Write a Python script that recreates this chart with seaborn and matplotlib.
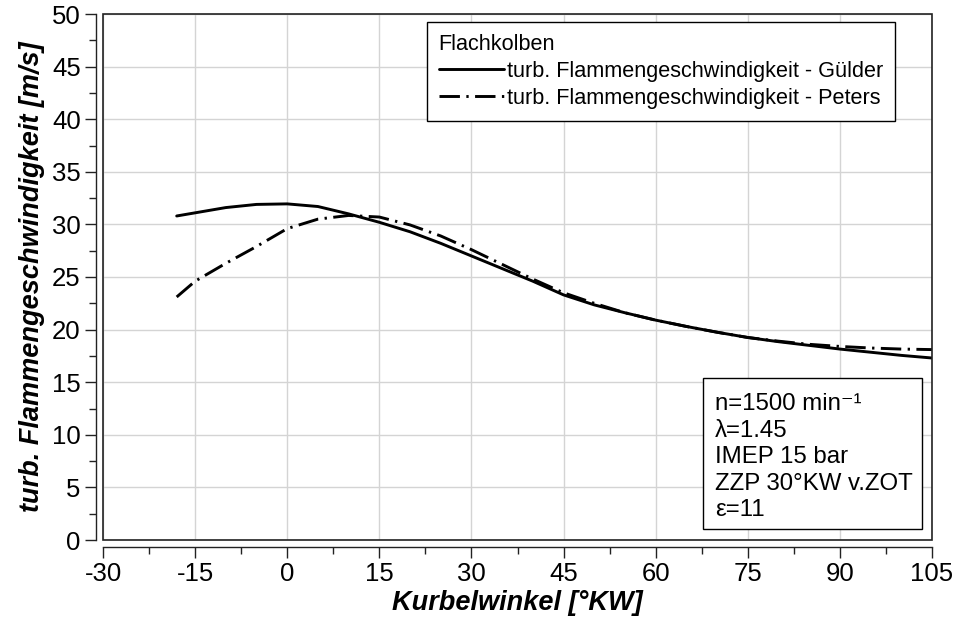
import numpy as np
import pandas as pd
import matplotlib
matplotlib.use("Agg")
import matplotlib.pyplot as plt
import seaborn as sns
from matplotlib.patches import Rectangle
from matplotlib.lines import Line2D
from matplotlib.ticker import MultipleLocator

# ---- data ----
kw = [-18, -15, -10, -5, 0, 5, 10, 15, 20, 25, 30, 35, 40, 45, 50,
      55, 60, 65, 70, 75, 80, 85, 90, 95, 100, 105]
guelder = [30.8, 31.1, 31.6, 31.9, 31.95, 31.7, 31.0, 30.2, 29.3, 28.2, 27.0,
           25.8, 24.6, 23.3, 22.35, 21.6, 20.9, 20.3, 19.75, 19.25, 18.85, 18.5,
           18.15, 17.85, 17.55, 17.3]
peters = [23.1, 24.6, 26.3, 27.9, 29.6, 30.5, 30.85, 30.7, 29.95, 28.9, 27.6,
          26.2, 24.8, 23.5, 22.5, 21.6, 20.9, 20.3, 19.75, 19.25, 18.9, 18.6,
          18.4, 18.25, 18.15, 18.1]
series_names = ["turb. Flammengeschwindigkeit - Gülder",
                "turb. Flammengeschwindigkeit - Peters"]
legend_title = "Flachkolben"
x_ticks = [-30, -15, 0, 15, 30, 45, 60, 75, 90, 105]
y_ticks = [0, 5, 10, 15, 20, 25, 30, 35, 40, 45, 50]
info_lines = ["n=1500 min⁻¹", "λ=1.45", "IMEP 15 bar", "ZZP 30°KW v.ZOT", "ε=11"]

df = pd.DataFrame({
    "kw": kw * 2,
    "v": guelder + peters,
    "serie": [series_names[0]] * len(kw) + [series_names[1]] * len(kw),
})

sns.set_theme(style="white")
plt.rcParams["font.family"] = ["Liberation Sans", "DejaVu Sans"]
plt.rcParams["axes.unicode_minus"] = False
for k in ["text.color", "axes.labelcolor", "xtick.color", "ytick.color"]:
    plt.rcParams[k] = "black"

DASHDOT = (7, 2.2, 0.8, 2.2)

fig = plt.figure(figsize=(9.55, 6.25), dpi=100)
ax = fig.add_axes([103 / 955, 1 - 540 / 625, (932 - 103) / 955, (540 - 14) / 625])

sns.lineplot(data=df, x="kw", y="v", hue="serie", style="serie",
             palette=["black", "black"],
             dashes={series_names[0]: "", series_names[1]: DASHDOT},
             linewidth=2.1, ax=ax, legend=False)
for ln in ax.lines:
    ln.set_solid_joinstyle("round")
    ln.set_dash_joinstyle("round")

ax.set_xlim(-30, 105)
ax.set_ylim(0, 50)
ax.set_xticks(x_ticks)
ax.set_yticks(y_ticks)
ax.xaxis.set_minor_locator(MultipleLocator(7.5))
ax.yaxis.set_minor_locator(MultipleLocator(2.5))
ax.grid(True, which="major", color="#d4d4d4", linewidth=1.0)
ax.set_axisbelow(True)

for s in ["top", "right"]:
    ax.spines[s].set_visible(False)
for s in ["left", "bottom"]:
    ax.spines[s].set_position(("outward", 5))
    ax.spines[s].set_color("#222222")
    ax.spines[s].set_linewidth(1.0)
ax.add_patch(Rectangle((0, 0), 1, 1, transform=ax.transAxes, fill=False,
                       edgecolor="#222222", linewidth=1.2, clip_on=False, zorder=5))

ax.tick_params(axis="both", which="major", direction="out", length=8, width=1,
               color="#222222", labelsize=18.5, pad=3, left=True, bottom=True)
ax.tick_params(axis="both", which="minor", direction="out", length=5, width=1,
               color="#222222", left=True, bottom=True)

ax.set_xlabel("Kurbelwinkel [°KW]", fontsize=19.5, fontweight="bold", fontstyle="italic", labelpad=3)
ax.set_ylabel("turb. Flammengeschwindigkeit [m/s]", fontsize=19.5, fontweight="bold",
              fontstyle="italic", labelpad=5)

handles = [Line2D([], [], color="black", lw=2.1, linestyle="-"),
           Line2D([], [], color="black", lw=2.1, linestyle=(0, DASHDOT))]
leg = ax.legend(handles, series_names, title=legend_title, loc="upper right",
                bbox_to_anchor=(0.9554, 0.9848), fontsize=15.6, title_fontsize=15.6,
                frameon=True, fancybox=False, edgecolor="black", framealpha=1,
                handlelength=3.0, handletextpad=0.15, borderpad=0.55,
                labelspacing=0.28, alignment="left", borderaxespad=0)
leg.get_frame().set_linewidth(1.0)

# info box
bx0, bx1 = (703 - 103) / 829, (922 - 103) / 829
by0, by1 = (540 - 529) / 526, (540 - 378) / 526
ax.add_patch(Rectangle((bx0, by0), bx1 - bx0, by1 - by0, transform=ax.transAxes,
                       facecolor="white", edgecolor="black", linewidth=1.0, zorder=6))
ax.text((715 - 103) / 829, (540 - 393) / 526, "\n".join(info_lines), transform=ax.transAxes,
        fontsize=17.3, va="top", ha="left", linespacing=1.27, zorder=7)

fig.savefig("out.png", dpi=100)
